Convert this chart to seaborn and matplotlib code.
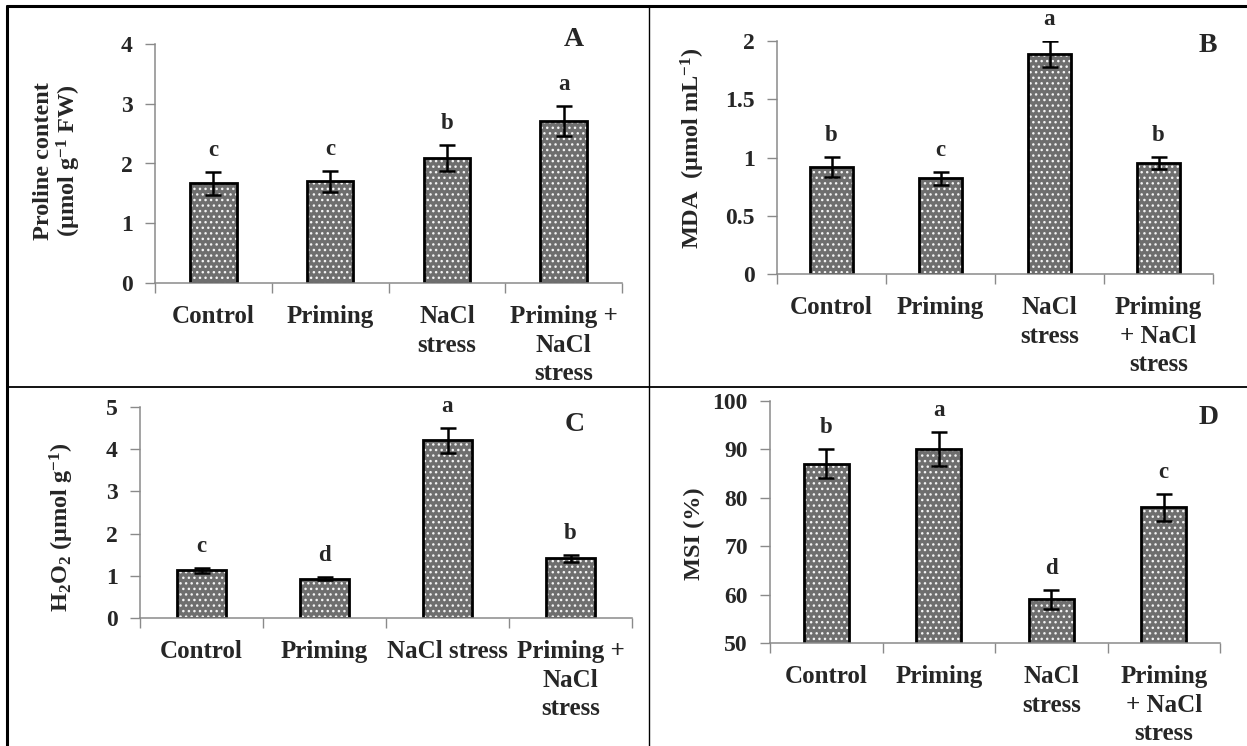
import numpy as np
import pandas as pd
import matplotlib
matplotlib.use("Agg")
import matplotlib.pyplot as plt
import seaborn as sns
from matplotlib.patches import Rectangle
from matplotlib.lines import Line2D
from matplotlib.ticker import FixedLocator, FormatStrFormatter

# ---------------- data ----------------
treatments = ["Control", "Priming", "NaCl stress", "Priming + NaCl stress"]

proline = [1.67, 1.70, 2.09, 2.71]
proline_err = [0.19, 0.18, 0.22, 0.25]
proline_letters = ["c", "c", "b", "a"]

mda = [0.92, 0.82, 1.89, 0.95]
mda_err = [0.085, 0.057, 0.11, 0.053]
mda_letters = ["b", "c", "a", "b"]

h2o2 = [1.13, 0.93, 4.21, 1.41]
h2o2_err = [0.06, 0.03, 0.29, 0.08]
h2o2_letters = ["c", "d", "a", "b"]

msi = [87.0, 90.0, 59.0, 78.0]
msi_err = [3.0, 3.5, 2.0, 2.8]
msi_letters = ["b", "a", "d", "c"]

xlabels_A = ["Control", "Priming", "NaCl\nstress", "Priming +\nNaCl\nstress"]
xlabels_B = ["Control", "Priming", "NaCl\nstress", "Priming\n+ NaCl\nstress"]
xlabels_C = ["Control", "Priming", "NaCl stress", "Priming +\nNaCl\nstress"]
xlabels_D = ["Control", "Priming", "NaCl\nstress", "Priming\n+ NaCl\nstress"]

yticks_A = [0, 1, 2, 3, 4]
yticks_B = [0, 0.5, 1, 1.5, 2]
yticks_C = [0, 1, 2, 3, 4, 5]
yticks_D = [50, 60, 70, 80, 90, 100]

ylabel_A = "Proline content\n(µmol g$^{-1}$ FW)"
ylabel_B = "MDA  (µmol mL$^{-1}$)"
ylabel_C = "H$_2$O$_2$ (µmol g$^{-1}$)"
ylabel_D = "MSI (%)"

# ---------------- style ----------------
sns.set_theme(style="white")
plt.rcParams["font.family"] = ["Liberation Serif", "DejaVu Serif"]
plt.rcParams["font.weight"] = "bold"
plt.rcParams["mathtext.fontset"] = "custom"
plt.rcParams["mathtext.rm"] = "Liberation Serif:bold"
plt.rcParams["mathtext.it"] = "Liberation Serif:bold"
plt.rcParams["mathtext.bf"] = "Liberation Serif:bold"
plt.rcParams["hatch.linewidth"] = 1.0

W, H = 1247, 746
fig = plt.figure(figsize=(W / 100, H / 100), dpi=100)
fig.patch.set_facecolor("white")

BAR = "#6e6e6e"
AXIS = "#8a8a8a"


def px_rect(left, top, right, bottom):
    return [left / W, 1 - bottom / H, (right - left) / W, (bottom - top) / H]


def panel(rect, values, errs, letters, xlabels, yticks, ylabel, ylabel_xy, tag, tag_xy):
    ax = fig.add_axes(rect)
    df = pd.DataFrame({"Treatment": treatments, "Value": values})
    sns.barplot(data=df, x="Treatment", y="Value", color=BAR, saturation=1,
                width=0.4, errorbar=None, ax=ax)
    bars = list(ax.patches)
    xs = []
    for p in bars:
        p.set_hatch("...")
        p.set_edgecolor("#f4f4f4")
        p.set_linewidth(0)
        ax.add_patch(Rectangle(p.get_xy(), p.get_width(), p.get_height(),
                               fill=False, edgecolor="black", linewidth=2.0,
                               zorder=p.get_zorder() + 0.1))
        xs.append(p.get_x() + p.get_width() / 2)
    ax.errorbar(xs, values, yerr=errs, fmt="none", ecolor="black",
                elinewidth=1.8, capsize=6, capthick=1.8, zorder=5)
    for x, v, e, l in zip(xs, values, errs, letters):
        ax.annotate(l, (x, v + e), xytext=(0, 8), textcoords="offset points",
                    ha="center", va="bottom", fontsize=16.5, fontweight="bold")

    ax.set_xlim(-0.5, 3.5)
    ax.set_ylim(yticks[0], yticks[-1])
    ax.set_yticks(yticks)
    ax.yaxis.set_major_formatter(FormatStrFormatter("%g"))
    ax.set_xticks(range(len(treatments)))
    ax.set_xticklabels(xlabels, fontsize=18, fontweight="bold", linespacing=1.3)
    ax.xaxis.set_minor_locator(FixedLocator([-0.5, 0.5, 1.5, 2.5, 3.5]))
    ax.tick_params(axis="x", which="major", length=0, pad=16)
    ax.tick_params(axis="x", which="minor", length=7, width=1, color=AXIS,
                   direction="out", bottom=True)
    ax.tick_params(axis="y", which="major", length=7, width=1, color=AXIS,
                   direction="out", left=True, labelsize=17, pad=9)
    for t in ax.get_yticklabels():
        t.set_fontweight("bold")
    for s in ["top", "right"]:
        ax.spines[s].set_visible(False)
    for s in ["left", "bottom"]:
        ax.spines[s].set_color(AXIS)
        ax.spines[s].set_linewidth(1.1)
    ax.set_xlabel("")
    ax.set_ylabel(ylabel, fontsize=17.5, fontweight="bold", linespacing=1.05)
    ax.yaxis.label.set_ha("center")
    ax.yaxis.label.set_va("center")
    ax.yaxis.set_label_coords(*ylabel_xy)
    ax.grid(False)
    fig.text(tag_xy[0] / W, 1 - tag_xy[1] / H, tag, fontsize=20,
             fontweight="bold", ha="center", va="center")
    return ax


panel(px_rect(155, 44, 622, 283), proline, proline_err, proline_letters,
      xlabels_A, yticks_A, ylabel_A, (-0.208, 0.51), "A", (574, 40))
panel(px_rect(777, 41, 1213, 274), mda, mda_err, mda_letters,
      xlabels_B, yticks_B, ylabel_B, (-0.193, 0.54), "B", (1208, 46))
panel(px_rect(140, 407, 632, 618), h2o2, h2o2_err, h2o2_letters,
      xlabels_C, yticks_C, ylabel_C, (-0.159, 0.43), "C", (575, 424))
panel(px_rect(770, 401, 1220, 643), msi, msi_err, msi_letters,
      xlabels_D, yticks_D, ylabel_D, (-0.167, 0.45), "D", (1209, 417))

# table-like frame lines
fig.add_artist(Line2D([7 / W, 1.0], [1 - 6 / H, 1 - 6 / H], color="black", lw=2.2))
fig.add_artist(Line2D([7 / W, 7 / W], [0, 1 - 6 / H], color="black", lw=2.2))
fig.add_artist(Line2D([649 / W, 649 / W], [0, 1 - 6 / H], color="black", lw=1.0))
fig.add_artist(Line2D([7 / W, 1.0], [1 - 387 / H, 1 - 387 / H], color="black", lw=1.3))

fig.savefig("out.png", dpi=100, facecolor="white")
